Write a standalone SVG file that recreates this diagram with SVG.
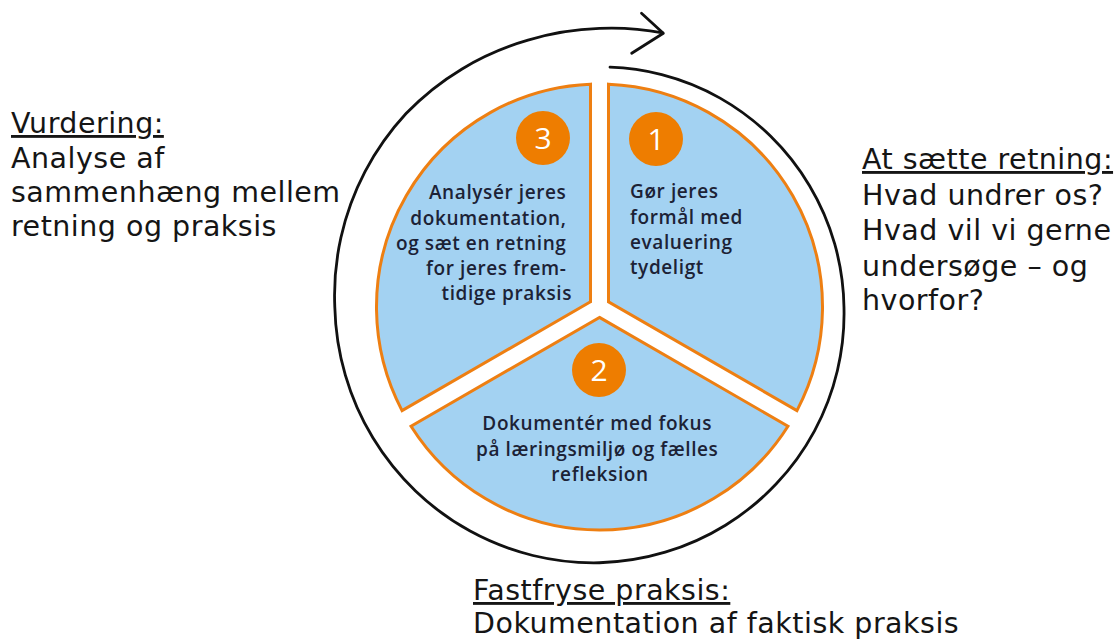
<svg xmlns="http://www.w3.org/2000/svg" width="1119" height="643" viewBox="0 0 1119 643">
  <style>
    .seg { fill: #A3D2F2; stroke: #EE7F12; stroke-width: 3; stroke-linejoin: miter; }
    .badge { fill: #EE7D00; }
    .num { font-family: "Open Sans", "Liberation Sans", sans-serif; font-size: 30px; fill: #ffffff; text-anchor: middle; }
    .inner { font-family: "Open Sans", "Noto Sans", sans-serif; font-weight: 600; font-size: 19px; letter-spacing: 0.6px; fill: #1C2236; }
    .outer { font-family: "DejaVu Sans", "Liberation Sans", sans-serif; font-size: 28.5px; letter-spacing: 0.5px; fill: #151515; }
    .head { text-decoration: underline; }
    .cycle { fill: none; stroke: #111111; stroke-width: 2.8; stroke-linecap: round; stroke-linejoin: round; }
  </style>
  <rect width="1119" height="643" fill="#ffffff"/>

  <g id="connectors">
    <path class="cycle" d="M 610,67.2 A 240.3 240.3 0 0 1 661.76,74.64 A 240.9 240.9 0 0 1 720.1,98.12 A 241.5 241.5 0 0 1 770.44,136.06 A 242.1 242.1 0 0 1 809.53,185.74 A 243 243 0 0 1 834.7,243.98 A 244 244 0 0 1 843.97,307 A 245.4 245.4 0 0 1 837.36,370.73 A 247.2 247.2 0 0 1 814.41,431.08 A 249.1 249.1 0 0 1 776.31,483.81 A 251 251 0 0 1 725.48,525.2 A 252.9 252.9 0 0 1 665.2,552.2 A 254.8 254.8 0 0 1 599.5,562.75 A 256.5 256.5 0 0 1 532.91,555.5 A 258 258 0 0 1 470.13,531.08 A 259.5 259.5 0 0 1 415.51,490.99 A 261 261 0 0 1 372.88,437.84 A 262.4 262.4 0 0 1 345.34,375.1 A 263.9 263.9 0 0 1 334.8,307 A 266.2 266.2 0 0 1 340.88,237.7 A 269.3 269.3 0 0 1 365.01,171.61 A 272.2 272.2 0 0 1 406.05,113.55 A 274.2 274.2 0 0 1 462.05,68.93 A 275.5 275.5 0 0 1 528.01,40.21 A 277.4 277.4 0 0 1 599.5,28.45 A 280 280 0 0 1 662.8,32.9"/>
    <path class="cycle" d="M 641.5,13.3 L 663.3,33.3 L 631.7,53.3"/>
  </g>

  <g id="step1">
    <path class="seg" d="M 608.5,301.8 L 608.5,84.18 A 223 223 0 0 1 796.97,410.62 Z"/>
    <circle class="badge" cx="656" cy="139" r="27"/>
    <text class="num" x="656" y="150">1</text>
    <text class="inner" x="630">
      <tspan x="630" y="198">Gør jeres</tspan>
      <tspan x="630" y="224">formål med</tspan>
      <tspan x="630" y="249">evaluering</tspan>
      <tspan x="630" y="274">tydeligt</tspan>
    </text>
  </g>

  <g id="step2">
    <path class="seg" d="M 599.5,317.4 L 787.97,426.2 A 223 223 0 0 1 411.03,426.2 Z"/>
    <circle class="badge" cx="599" cy="370" r="27"/>
    <text class="num" x="599" y="381">2</text>
    <text class="inner" text-anchor="middle">
      <tspan x="600" y="430">Dokumentér med fokus</tspan>
      <tspan x="600" y="456">på læringsmiljø og fælles</tspan>
      <tspan x="600" y="481">refleksion</tspan>
    </text>
  </g>

  <g id="step3">
    <path class="seg" d="M 590.5,301.8 L 402.03,410.62 A 223 223 0 0 1 590.5,84.18 Z"/>
    <circle class="badge" cx="543" cy="138" r="27"/>
    <text class="num" x="543" y="149">3</text>
    <text class="inner" text-anchor="end">
      <tspan x="572" y="199">Analysér jeres</tspan>
      <tspan x="572" y="225">dokumentation,</tspan>
      <tspan x="572" y="250">og sæt en retning</tspan>
      <tspan x="572" y="275">for jeres frem-</tspan>
      <tspan x="572" y="300">tidige praksis</tspan>
    </text>
  </g>

  <g id="label-vurdering">
    <text class="outer">
      <tspan class="head" x="11" y="133">Vurdering:</tspan>
      <tspan x="11" y="168">Analyse af</tspan>
      <tspan x="11" y="202">sammenhæng mellem</tspan>
      <tspan x="11" y="236">retning og praksis</tspan>
    </text>
  </g>

  <g id="label-retning">
    <text class="outer">
      <tspan class="head" x="862" y="169">At sætte retning:</tspan>
      <tspan x="862" y="205">Hvad undrer os?</tspan>
      <tspan x="862" y="240">Hvad vil vi gerne</tspan>
      <tspan x="862" y="276">undersøge – og</tspan>
      <tspan x="862" y="310">hvorfor?</tspan>
    </text>
  </g>

  <g id="label-fastfryse">
    <text class="outer">
      <tspan class="head" x="473" y="600">Fastfryse praksis:</tspan>
      <tspan x="473" y="633">Dokumentation af faktisk praksis</tspan>
    </text>
  </g>
</svg>
